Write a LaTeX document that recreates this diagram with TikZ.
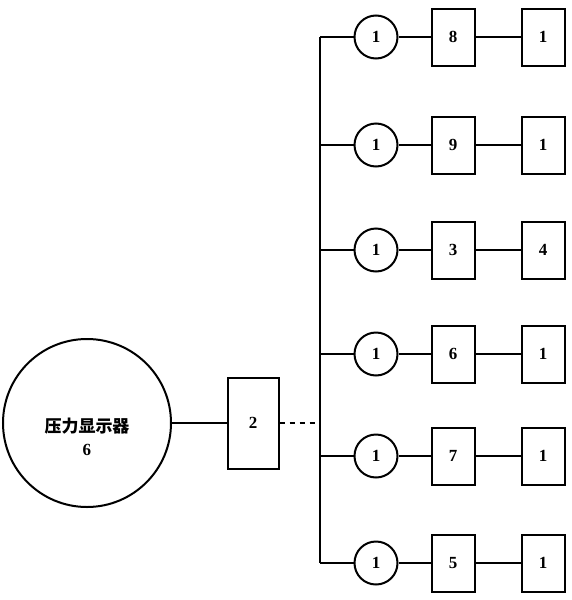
\documentclass[tikz,border=0pt]{standalone}
\usepackage{fontspec}
\setmainfont{Liberation Serif}
\newfontfamily\cjk{Noto Sans CJK SC}
\begin{document}
\begin{tikzpicture}[x=1pt,y=-1pt,
  thick line/.style={line width=2pt},
  conn/.style={line width=1.1pt},
  numfont/.style={font=\bfseries\fontsize{17}{17}\selectfont},
  valve/.style={draw,circle,thick line,minimum size=43pt,inner sep=0pt,numfont},
  unit/.style={draw,rectangle,thick line,minimum width=43pt,minimum height=57pt,inner sep=0pt,numfont}]
\useasboundingbox (0,0) rectangle (572,600);
\node[draw,circle,thick line,minimum size=168pt,inner sep=0pt] (disp) at (87,423) {};
\node[align=center,inner sep=0pt] (dispText) at (87,437)
  {{\cjk\bfseries\fontsize{17}{18}\selectfont 压力显示器}\\[9pt]{\bfseries\fontsize{17}{17}\selectfont 6}};
\node[unit,minimum width=51pt,minimum height=91pt] (b2) at (253,423) {2};
\coordinate (tTop) at (320,37);
\coordinate (tBot) at (320,563);
\coordinate (tMid) at (320,423);
\draw[conn] (disp.east) -- (b2.west);
\draw[conn,dash pattern=on 5pt off 5pt] (b2.east) -- (tMid);
\draw[conn] (tTop) -- (tBot);
\foreach \i/\y/\m/\r in {1/37/8/1, 2/145/9/1, 3/250/3/4, 4/354/6/1, 5/456/7/1, 6/563/5/1}{
  \coordinate (t\i) at (320,\y);
  \node[valve] (v\i) at (376,\y) {1};
  \node[unit] (m\i) at (453,\y) {\m};
  \node[unit] (r\i) at (543,\y) {\r};
  \draw[conn] (t\i) -- (v\i.west);
  \draw[conn] (v\i.east) -- (m\i.west);
  \draw[conn] (m\i.east) -- (r\i.west);
}
\end{tikzpicture}
\end{document}
